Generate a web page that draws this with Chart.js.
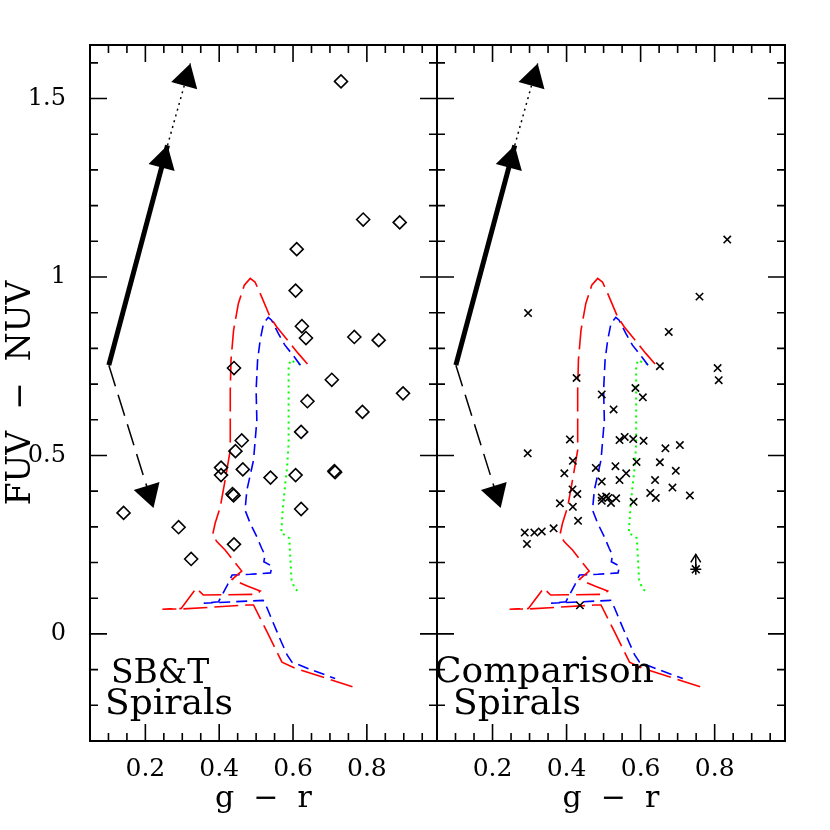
<!DOCTYPE html>
<html>
<head>
<meta charset="utf-8">
<script src="https://cdn.jsdelivr.net/npm/chart.js@4.4.1/dist/chart.umd.min.js"></script>
<style>
  html, body { margin: 0; padding: 0; background: #fff; }
  #wrap { position: relative; width: 830px; height: 830px; }
  #wrap canvas { position: absolute; left: 0; top: 0; }
</style>
</head>
<body>
<div id="wrap">
  <canvas id="left" width="830" height="830"></canvas>
  <canvas id="right" width="830" height="830"></canvas>
</div>
<script>
// axes
const xMin = 0.05, xMax = 0.99;
const yMin = -0.3, yMax = 1.65;
const xTicks = [0.2, 0.4, 0.6, 0.8];
const yTicks = [0, 0.5, 1, 1.5];

// SB&T spirals (diamonds)
const sbtX = [0.730, 0.790, 0.889, 0.610, 0.607, 0.624, 0.635, 0.766, 0.832, 0.440, 0.705, 0.898, 0.639, 0.788,
              0.622, 0.461, 0.444, 0.405, 0.405, 0.464, 0.539, 0.607, 0.712, 0.714, 0.436, 0.439, 0.622, 0.141,
              0.290, 0.440, 0.324];
const sbtY = [1.548, 1.161, 1.153, 1.078, 0.962, 0.862, 0.829, 0.832, 0.823, 0.745, 0.712, 0.674, 0.652, 0.622,
              0.566, 0.542, 0.512, 0.466, 0.445, 0.461, 0.438, 0.445, 0.456, 0.453, 0.392, 0.388, 0.350, 0.339,
              0.299, 0.251, 0.210];

// comparison spirals (crosses)
const compX = [0.834, 0.759, 0.296, 0.676, 0.652, 0.808, 0.811, 0.427, 0.586, 0.495, 0.606, 0.527, 0.409, 0.543,
               0.557, 0.580, 0.608, 0.667, 0.706, 0.295, 0.417, 0.589, 0.652, 0.394, 0.479, 0.532, 0.561, 0.695,
               0.543, 0.495, 0.639, 0.686, 0.416, 0.429, 0.626, 0.641, 0.733, 0.495, 0.507, 0.495, 0.513, 0.520,
               0.534, 0.382, 0.417, 0.581, 0.431, 0.365, 0.287, 0.313, 0.333, 0.293, 0.436];
const compY = [1.105, 0.945, 0.899, 0.846, 0.750, 0.745, 0.711, 0.717, 0.689, 0.671, 0.663, 0.629, 0.545, 0.543,
               0.552, 0.546, 0.541, 0.520, 0.529, 0.506, 0.485, 0.482, 0.481, 0.450, 0.465, 0.470, 0.450, 0.457,
               0.431, 0.427, 0.431, 0.410, 0.405, 0.392, 0.395, 0.381, 0.388, 0.382, 0.385, 0.373, 0.381, 0.367,
               0.380, 0.366, 0.356, 0.370, 0.317, 0.296, 0.284, 0.284, 0.287, 0.252, 0.080];

// lower limit (star with arrow)
const limX = [0.749];
const limY = [0.181];
const limTipY = [0.223];

// model tracks
const redX = [0.639, 0.614, 0.596, 0.556, 0.538, 0.511, 0.497, 0.484, 0.468, 0.452, 0.439, 0.432, 0.430, 0.430,
              0.416, 0.403, 0.389, 0.382, 0.394, 0.416, 0.461, 0.435, 0.476, 0.511, 0.500, 0.357, 0.338, 0.297,
              0.246, 0.300, 0.476, 0.493, 0.530, 0.570, 0.605, 0.761];
const redY = [0.756, 0.786, 0.809, 0.860, 0.888, 0.954, 0.986, 0.996, 0.977, 0.926, 0.851, 0.767, 0.683, 0.515,
              0.431, 0.356, 0.310, 0.277, 0.258, 0.235, 0.176, 0.153, 0.134, 0.120, 0.111, 0.109, 0.128, 0.071,
              0.069, 0.070, 0.081, 0.081, 0.005, -0.079, -0.096, -0.148];
const blueX = [0.620, 0.610, 0.596, 0.578, 0.560, 0.542, 0.533, 0.520, 0.511, 0.504, 0.500, 0.502, 0.493, 0.475,
               0.470, 0.484, 0.502, 0.515, 0.524, 0.521, 0.543, 0.539, 0.484, 0.435, 0.422, 0.398, 0.358, 0.519,
               0.530, 0.543, 0.566, 0.584, 0.597, 0.651, 0.714];
const blueY = [0.753, 0.767, 0.786, 0.809, 0.842, 0.879, 0.887, 0.870, 0.823, 0.767, 0.683, 0.599, 0.487, 0.403,
               0.347, 0.310, 0.272, 0.240, 0.221, 0.202, 0.190, 0.171, 0.167, 0.165, 0.137, 0.090, 0.086, 0.094,
               0.072, 0.039, -0.017, -0.059, -0.079, -0.101, -0.125];
const greenX = [0.619, 0.605, 0.593, 0.588, 0.588, 0.588, 0.584, 0.578, 0.572, 0.568, 0.578, 0.590, 0.592, 0.596,
                0.605, 0.619];
const greenY = [0.756, 0.761, 0.767, 0.750, 0.655, 0.534, 0.468, 0.412, 0.347, 0.282, 0.277, 0.268, 0.225, 0.151,
                0.127, 0.115];

// vectors: origin, thick arrow tip, dotted extension tip, dashed arrow tip
const vecX = [0.101, 0.260, 0.322, 0.222];
const vecY = [0.753, 1.369, 1.598, 0.353];

const serif = "'DejaVu Serif', 'Liberation Serif', serif";
const pts = (xs, ys) => xs.map((x, i) => ({ x, y: ys[i] }));

function vectorSets() {
  return [
    { data: [{ x: vecX[0], y: vecY[0] }, { x: vecX[1], y: vecY[1] }], showLine: true, pointRadius: 0,
      borderColor: '#000', borderWidth: 5, head: 'filled' },
    { data: [{ x: vecX[1], y: vecY[1] }, { x: vecX[2], y: vecY[2] }], showLine: true, pointRadius: 0,
      borderColor: '#000', borderWidth: 1.5, borderDash: [2, 4], head: 'filled' },
    { data: [{ x: vecX[0], y: vecY[0] }, { x: vecX[3], y: vecY[3] }], showLine: true, pointRadius: 0,
      borderColor: '#000', borderWidth: 1.5, borderDash: [22, 9], head: 'filled' }
  ];
}

function trackSets() {
  return [
    { data: pts(redX, redY), showLine: true, pointRadius: 0, borderColor: '#ff0000', borderWidth: 1.6,
      borderDash: [24, 7] },
    { data: pts(blueX, blueY), showLine: true, pointRadius: 0, borderColor: '#0000ff', borderWidth: 1.6,
      borderDash: [11, 6] },
    { data: pts(greenX, greenY), showLine: true, pointRadius: 0, borderColor: '#00ff00', borderWidth: 2,
      borderDash: [2, 4] }
  ];
}

// inward ticks on all four sides plus the box
const framePlugin = {
  id: 'frame',
  afterDraw(chart) {
    const { ctx, chartArea: a, scales: { x, y } } = chart;
    ctx.save();
    ctx.strokeStyle = '#000';
    ctx.lineWidth = 2;
    ctx.strokeRect(a.left, a.top, a.right - a.left, a.bottom - a.top);
    ctx.lineWidth = 1.6;
    ctx.beginPath();
    for (let i = 1; i * 0.05 < xMax; i++) {
      const px = x.getPixelForValue(i * 0.05);
      const len = i % 4 === 0 ? 17 : 8;
      ctx.moveTo(px, a.bottom); ctx.lineTo(px, a.bottom - len);
      ctx.moveTo(px, a.top); ctx.lineTo(px, a.top + len);
    }
    for (let i = -2; i / 10 < yMax; i++) {
      const py = y.getPixelForValue(i / 10);
      const len = i % 5 === 0 ? 17 : 8;
      ctx.moveTo(a.left, py); ctx.lineTo(a.left + len, py);
      ctx.moveTo(a.right, py); ctx.lineTo(a.right - len, py);
    }
    ctx.stroke();
    ctx.restore();
  }
};

const arrowPlugin = {
  id: 'arrowHeads',
  afterDatasetsDraw(chart) {
    const ctx = chart.ctx;
    chart.data.datasets.forEach((ds, i) => {
      if (!ds.head) return;
      const el = chart.getDatasetMeta(i).data;
      const p = el[el.length - 1], q = el[el.length - 2];
      const ang = Math.atan2(p.y - q.y, p.x - q.x);
      const open = ds.head === 'open';
      const L = open ? 8 : 23, W = open ? 5 : 13.5;
      const bx = p.x - L * Math.cos(ang), by = p.y - L * Math.sin(ang);
      const nx = -Math.sin(ang) * W, ny = Math.cos(ang) * W;
      ctx.save();
      ctx.beginPath();
      ctx.moveTo(bx + nx, by + ny);
      ctx.lineTo(p.x, p.y);
      ctx.lineTo(bx - nx, by - ny);
      if (open) {
        ctx.strokeStyle = '#000'; ctx.lineWidth = 1.5; ctx.stroke();
      } else {
        ctx.closePath(); ctx.fillStyle = '#000'; ctx.fill();
      }
      ctx.restore();
    });
  }
};

const textPlugin = {
  id: 'panelText',
  afterDraw(chart, args, opts) {
    const { ctx, chartArea: a } = chart;
    ctx.save();
    ctx.fillStyle = '#000';
    ctx.textBaseline = 'alphabetic';
    (opts.lines || []).forEach(l => {
      ctx.font = l.size + 'px ' + serif;
      ctx.fillText(l.text, a.left + l.dx, a.top + l.dy);
    });
    ctx.restore();
  }
};

function scales(showY) {
  return {
    x: {
      type: 'linear', min: xMin, max: xMax,
      afterBuildTicks: s => { s.ticks = xTicks.map(v => ({ value: v })); },
      afterFit: s => { s.height = 89; },
      grid: { display: false }, border: { display: false },
      ticks: { font: { family: serif, size: 25 }, color: '#000', padding: 5, maxRotation: 0,
               callback: v => v.toFixed(1) },
      title: { display: true, text: 'g  −  r', font: { family: serif, size: 30 }, color: '#000',
               padding: { top: 0, bottom: 13 } }
    },
    y: {
      type: 'linear', min: yMin, max: yMax, display: showY,
      afterBuildTicks: s => { s.ticks = yTicks.map(v => ({ value: v })); },
      afterFit: s => { s.width = showY ? 90 : 0; },
      grid: { display: false }, border: { display: false },
      ticks: { font: { family: serif, size: 24 }, color: '#000', padding: 16, callback: v => String(v) },
      title: { display: true, text: 'FUV  −  NUV', font: { family: serif, size: 33 }, color: '#000',
               padding: { top: 2, bottom: 0 } }
    }
  };
}

function baseOptions(padding, showY, lines) {
  return {
    responsive: false, animation: false, devicePixelRatio: 1,
    layout: { padding },
    scales: scales(showY),
    plugins: { legend: { display: false }, tooltip: { enabled: false }, panelText: { lines } }
  };
}

new Chart(document.getElementById('left'), {
  type: 'scatter',
  data: {
    datasets: [
      { data: pts(sbtX, sbtY), pointStyle: 'rectRot', pointRadius: 6.5, borderColor: '#000', borderWidth: 1.6,
        backgroundColor: 'rgba(0,0,0,0)' },
      ...trackSets(),
      ...vectorSets()
    ]
  },
  options: baseOptions({ left: 0, top: 45, right: 393, bottom: 0 }, true,
    [{ text: 'SB&T', size: 33, dx: 21, dy: 638 }, { text: 'Spirals', size: 36, dx: 15, dy: 669 }]),
  plugins: [framePlugin, arrowPlugin, textPlugin]
});

new Chart(document.getElementById('right'), {
  type: 'scatter',
  data: {
    datasets: [
      { data: pts(compX, compY), pointStyle: 'crossRot', pointRadius: 5.2, borderColor: '#000', borderWidth: 1.6 },
      { data: pts(limX, limY), pointStyle: 'star', pointRadius: 5.5, borderColor: '#000', borderWidth: 1.6 },
      { data: [{ x: limX[0], y: limY[0] }, { x: limX[0], y: limTipY[0] }], showLine: true, pointRadius: 0,
        borderColor: '#000', borderWidth: 1.5, head: 'open' },
      ...trackSets(),
      ...vectorSets()
    ]
  },
  options: baseOptions({ left: 437, top: 45, right: 45, bottom: 0 }, false,
    [{ text: 'Comparison', size: 36, dx: -3, dy: 637 }, { text: 'Spirals', size: 36, dx: 16, dy: 669 }]),
  plugins: [framePlugin, arrowPlugin, textPlugin]
});
</script>
</body>
</html>
